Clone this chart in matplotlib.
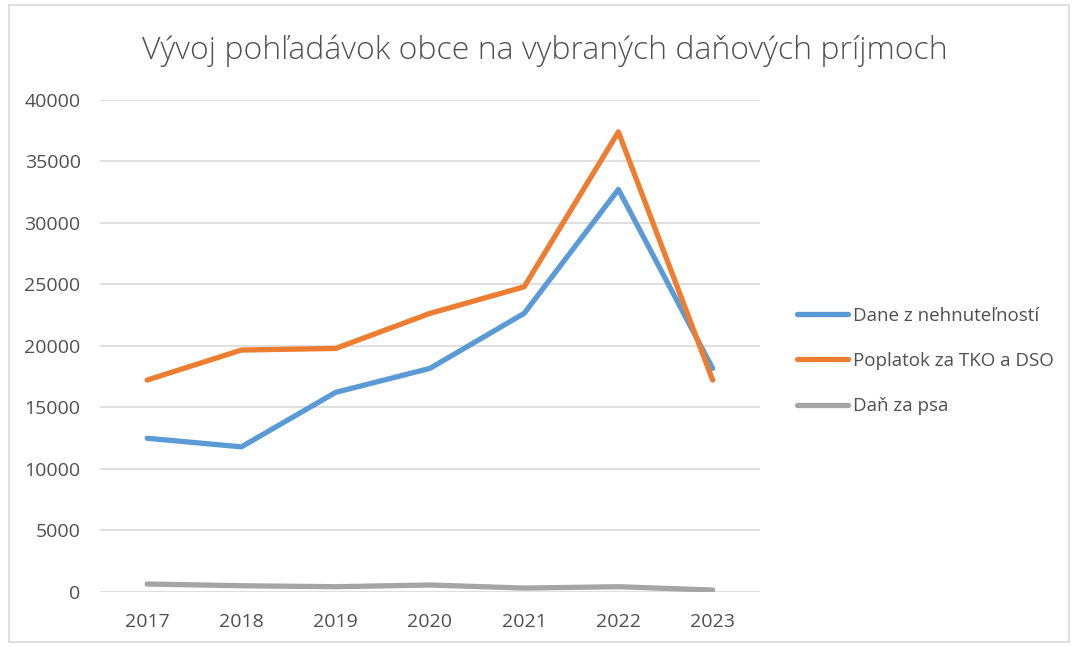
import matplotlib
matplotlib.use("Agg")
import matplotlib.pyplot as plt
from matplotlib.patches import Rectangle

years = ["2017", "2018", "2019", "2020", "2021", "2022", "2023"]
dane_nehnutelnosti = [12500, 11800, 16230, 18180, 22650, 32730, 18180]
poplatok_tko = [17230, 19670, 19800, 22650, 24810, 37400, 17230]
dan_za_psa = [650, 510, 430, 570, 320, 430, 160]

series = [
    ("Dane z nehnuteľností", dane_nehnutelnosti, "#5B9BD5"),
    ("Poplatok za TKO a DSO", poplatok_tko, "#ED7D31"),
    ("Daň za psa", dan_za_psa, "#A5A5A5"),
]

plt.rcParams["font.family"] = ["Open Sans", "DejaVu Sans"]
text_col = "#505050"

fig = plt.figure(figsize=(10.78, 6.47), dpi=100)
fig.patches.append(Rectangle((0.008, 0.008), 0.984, 0.984, transform=fig.transFigure,
                             fill=False, ec="#D9D9D9", lw=1.2))
ax = fig.add_axes([0.0928, 0.085, 0.612, 0.7605])

x = range(len(years))
for name, vals, col in series:
    ax.plot(x, vals, color=col, lw=3.8, label=name, solid_capstyle="round",
            solid_joinstyle="round")

ax.set_xlim(-0.5, len(years) - 0.5)
ax.set_ylim(0, 40000)
ax.set_yticks(range(0, 40001, 5000))
ax.set_xticks(list(x))
ax.set_xticklabels(years)
ax.grid(axis="y", color="#D9D9D9", lw=1.2)
ax.set_axisbelow(True)
for s in ax.spines.values():
    s.set_visible(False)
ax.tick_params(length=0, labelsize=14, colors=text_col)
ax.tick_params(axis="x", pad=15)
ax.tick_params(axis="y", pad=14)

fig.text(0.505, 0.922, "Vývoj pohľadávok obce na vybraných daňových príjmoch",
         ha="center", va="center", fontsize=23, color=text_col, fontweight="light")

ax.legend(loc="center left", bbox_to_anchor=(0.731, 0.442), bbox_transform=fig.transFigure,
          frameon=False, fontsize=13.5, labelcolor=text_col, handlelength=2.7,
          handletextpad=0.25, labelspacing=1.45, borderpad=0)

fig.savefig("out.png", dpi=100)
